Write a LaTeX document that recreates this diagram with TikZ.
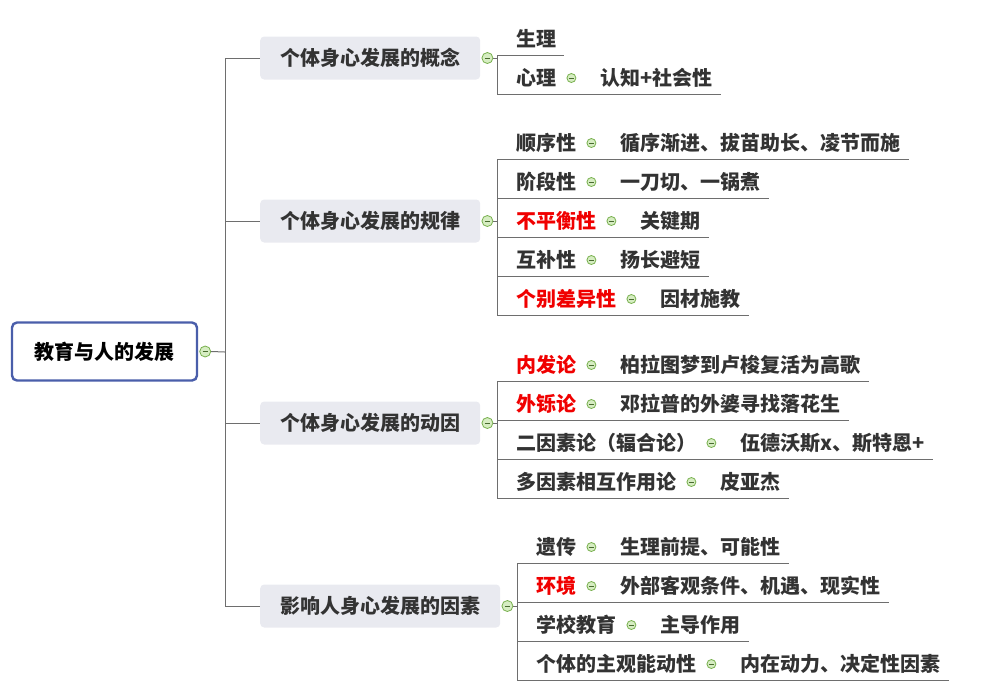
\documentclass[tikz,border=0pt]{standalone}
\usepackage{fontspec}
\setmainfont{Noto Sans CJK SC}
\usetikzlibrary{calc}
\definecolor{txt}{HTML}{333333}
\definecolor{hot}{HTML}{F00000}
\definecolor{lncol}{HTML}{6E6E6E}
\definecolor{boxf}{HTML}{E9EAF0}
\definecolor{rootb}{HTML}{4A5EAA}
\definecolor{mkf}{HTML}{D6EDC2}
\definecolor{mkd}{HTML}{78B04E}
\newcommand\kfont{\fontsize{20}{24}\selectfont\bfseries}
\tikzset{
  ln/.style={draw=lncol, line width=1pt},
  itm/.style={anchor=west, inner sep=0pt, font=\kfont, text=txt, text height=17.6pt, text depth=2.4pt},
  mk/.style={circle, draw=mkd, fill=mkf, minimum size=9pt, inner sep=0pt, line width=0.8pt,
    path picture={\draw[mkd!60!black, line width=0.9pt]
      ([xshift=-2.6pt]path picture bounding box.center) -- ([xshift=2.6pt]path picture bounding box.center);}},
  bigmk/.style={mk, minimum size=11pt},
  topic/.style={anchor=west, rounded corners=4pt, fill=boxf, minimum height=43pt, inner xsep=20pt, inner ysep=0pt,
    font=\kfont, text=txt, text height=17.6pt, text depth=2.4pt},
  rootbox/.style={draw=rootb, line width=2.4pt, rounded corners=5pt, fill=white, minimum width=185pt,
    minimum height=58pt, font=\kfont, text=black}
}
% name, x, y, colour, key, child
\newcommand\kv[6]{%
  \node[itm, text=#4] (#1k) at (#2,#3) {#5};
  \node[mk] (#1m) at ([xshift=15pt]#1k.east) {};
  \node[itm] (#1c) at ([xshift=29pt]#1m.center) {#6};
  \coordinate (#1u) at ([shift={(-19,16)}]#1k.west);
  \coordinate (#1v) at ([shift={(8,16)}]#1c.east);
  \draw[ln] (#1u) -- (#1v);}
\begin{document}
\begin{tikzpicture}[x=1pt,y=-1pt]
\useasboundingbox (0,0) rectangle (981,689);

% root
\node[rootbox] (root) at (104.5,351.5) {教育与人的发展};
\node[bigmk] (rm) at ([xshift=7pt]root.east) {};
\coordinate (trunk) at (225,352);

% level-1 topics
\node[topic] (L1) at (260,58) {个体身心发展的概念};
\node[topic] (L2) at (260,221) {个体身心发展的规律};
\node[topic] (L3) at (260,423) {个体身心发展的动因};
\node[topic] (L4) at (260,606) {影响人身心发展的因素};
\foreach \i in {1,2,3,4} {\node[bigmk] (L\i m) at ([xshift=7pt]L\i.east) {};}

\draw[ln] (rm.east) -- (trunk);
\draw[ln] (trunk |- L1.west) -- (trunk |- L4.west);
\foreach \i in {1,2,3,4} {\draw[ln] (trunk |- L\i.west) -- (L\i.west);}

% group 1
\node[itm] (aak) at (516,39) {生理};
\coordinate (aau) at ([shift={(-19,16)}]aak.west);
\coordinate (aav) at ([shift={(8,16)}]aak.east);
\draw[ln] (aau) -- (aav);
\kv{ab}{516}{78}{txt}{心理}{认知+社会性}
\draw[ln] (L1m.east) -- (L1m -| aau);
\draw[ln] (aau) -- (abu);

% group 2
\kv{ba}{516}{143}{txt}{顺序性}{循序渐进、拔苗助长、凌节而施}
\kv{bb}{516}{182}{txt}{阶段性}{一刀切、一锅煮}
\kv{bc}{516}{221}{hot}{不平衡性}{关键期}
\kv{bd}{516}{260}{txt}{互补性}{扬长避短}
\kv{be}{516}{299}{hot}{个别差异性}{因材施教}
\draw[ln] (L2m.east) -- (L2m -| bau);
\draw[ln] (bau) -- (beu);

% group 3
\kv{ca}{516}{365}{hot}{内发论}{柏拉图梦到卢梭复活为高歌}
\kv{cb}{516}{404}{hot}{外铄论}{邓拉普的外婆寻找落花生}
\kv{cc}{516}{443}{txt}{二因素论（辐合论）}{伍德沃斯x、斯特恩+}
\kv{cd}{516}{482}{txt}{多因素相互作用论}{皮亚杰}
\draw[ln] (L3m.east) -- (L3m -| cau);
\draw[ln] (cau) -- (cdu);

% group 4
\kv{da}{536}{547}{txt}{遗传}{生理前提、可能性}
\kv{db}{536}{586}{hot}{环境}{外部客观条件、机遇、现实性}
\kv{dc}{536}{625}{txt}{学校教育}{主导作用}
\kv{dd}{536}{664}{txt}{个体的主观能动性}{内在动力、决定性因素}
\draw[ln] (L4m.east) -- (L4m -| dau);
\draw[ln] (dau) -- (ddu);
\end{tikzpicture}
\end{document}
